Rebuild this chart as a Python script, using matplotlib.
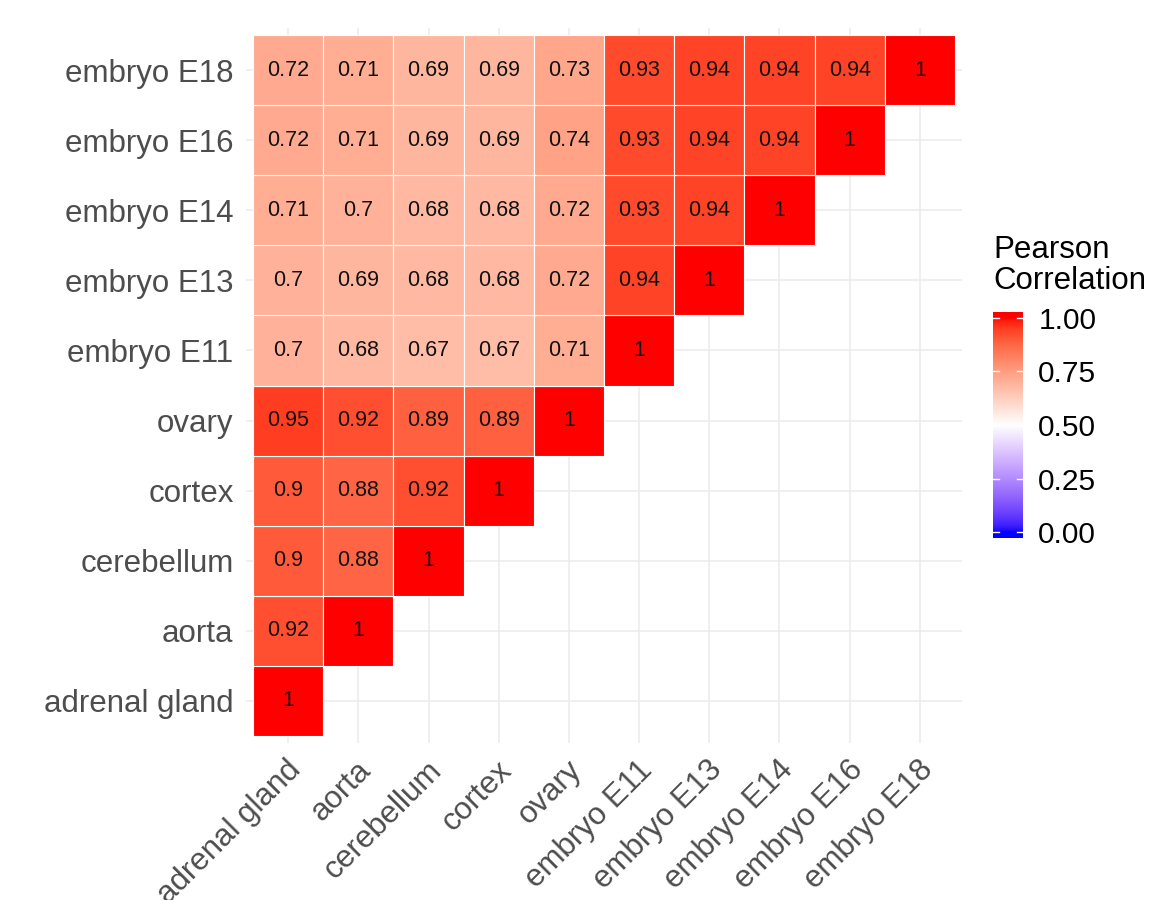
import numpy as np
import matplotlib
matplotlib.use("Agg")
import matplotlib.pyplot as plt
from matplotlib.colors import ListedColormap
from matplotlib.transforms import ScaledTranslation

plt.rcParams['font.family'] = ['Liberation Sans', 'DejaVu Sans']

# ---------------- data ----------------
tissues = ["adrenal gland", "aorta", "cerebellum", "cortex", "ovary",
           "embryo E11", "embryo E13", "embryo E14", "embryo E16", "embryo E18"]

# correlation rows (row tissue vs. columns from "adrenal gland" onward)
row_adrenal_gland = [1]
row_aorta = [0.92, 1]
row_cerebellum = [0.9, 0.88, 1]
row_cortex = [0.9, 0.88, 0.92, 1]
row_ovary = [0.95, 0.92, 0.89, 0.89, 1]
row_embryo_E11 = [0.7, 0.68, 0.67, 0.67, 0.71, 1]
row_embryo_E13 = [0.7, 0.69, 0.68, 0.68, 0.72, 0.94, 1]
row_embryo_E14 = [0.71, 0.7, 0.68, 0.68, 0.72, 0.93, 0.94, 1]
row_embryo_E16 = [0.72, 0.71, 0.69, 0.69, 0.74, 0.93, 0.94, 0.94, 1]
row_embryo_E18 = [0.72, 0.71, 0.69, 0.69, 0.73, 0.93, 0.94, 0.94, 0.94, 1]

rows = [row_adrenal_gland, row_aorta, row_cerebellum, row_cortex, row_ovary,
        row_embryo_E11, row_embryo_E13, row_embryo_E14, row_embryo_E16, row_embryo_E18]

legend_breaks = [0.0, 0.25, 0.5, 0.75, 1.0]
legend_title = "Pearson\nCorrelation"

# ---------------- colour scale (Lab interpolation, like ggplot) ----------------
WHITE_REF = np.array([0.95047, 1.0, 1.08883])
M = np.array([[0.4124564, 0.3575761, 0.1804375],
              [0.2126729, 0.7151522, 0.0721750],
              [0.0193339, 0.1191920, 0.9503041]])
Minv = np.linalg.inv(M)


def srgb_to_lab(rgb):
    c = np.asarray(rgb, float)
    lin = np.where(c <= 0.04045, c / 12.92, ((c + 0.055) / 1.055) ** 2.4)
    xyz = M @ lin / WHITE_REF
    d = 6 / 29
    f = np.where(xyz > d ** 3, np.cbrt(xyz), xyz / (3 * d * d) + 4 / 29)
    return np.array([116 * f[1] - 16, 500 * (f[0] - f[1]), 200 * (f[1] - f[2])])


def lab_to_srgb(lab):
    L, a, b = lab
    fy = (L + 16) / 116
    fx = fy + a / 500
    fz = fy - b / 200
    d = 6 / 29
    f = np.array([fx, fy, fz])
    xyz = np.where(f > d, f ** 3, 3 * d * d * (f - 4 / 29)) * WHITE_REF
    lin = Minv @ xyz
    lin = np.clip(lin, 0, 1)
    c = np.where(lin <= 0.0031308, 12.92 * lin, 1.055 * lin ** (1 / 2.4) - 0.055)
    return np.clip(c, 0, 1)


lab_blue = srgb_to_lab([0, 0, 1])
lab_white = srgb_to_lab([1, 1, 1])
lab_red = srgb_to_lab([1, 0, 0])
N = 512
cols = []
for t in np.linspace(0, 1, N):
    if t <= 0.5:
        s = t / 0.5
        lab = lab_blue + (lab_white - lab_blue) * s
    else:
        s = (t - 0.5) / 0.5
        lab = lab_white + (lab_red - lab_white) * s
    cols.append(lab_to_srgb(lab))
cmap = ListedColormap(cols)

# ---------------- figure ----------------
W, H = 1157, 900
fig = plt.figure(figsize=(W / 100, H / 100), dpi=100)
ax = fig.add_axes([246 / W, 1 - 743 / H, 716 / W, 715 / H])
n = len(tissues)
ax.set_xlim(-0.6, n - 0.4)
ax.set_ylim(-0.6, n - 0.4)

for k in range(n):
    ax.axvline(k, color="#EBEBEB", lw=1.1, zorder=0)
    ax.axhline(k, color="#EBEBEB", lw=1.1, zorder=0)

for j, row in enumerate(rows):
    for i, v in enumerate(row):
        ax.add_patch(plt.Rectangle((i - 0.5, j - 0.5), 1, 1, facecolor=cmap(float(v)),
                                   edgecolor="white", lw=0.8, zorder=2))
        ax.text(i, j, f"{v:g}", ha="center", va="center", fontsize=15.5,
                color="#111111", zorder=3)

for s in ax.spines.values():
    s.set_visible(False)
ax.set_xticks(range(n))
ax.set_yticks(range(n))
ax.set_yticklabels(tissues, fontsize=22.5, color="#4D4D4D")
ax.set_xticklabels(tissues, fontsize=22.5, color="#4D4D4D", rotation=45,
                   ha="right", va="top", rotation_mode="anchor")
ax.tick_params(axis="both", length=0)
ax.tick_params(axis="y", pad=9)
ax.tick_params(axis="x", pad=0)
off = ScaledTranslation(-2 / 100, -12 / 100, fig.dpi_scale_trans)
for lab in ax.get_xticklabels():
    lab.set_transform(lab.get_transform() + off)

# ---------------- colour bar ----------------
cax = fig.add_axes([993 / W, 1 - 538 / H, 30 / W, 226 / H])
ext = 1 / 38
vals = np.clip(np.linspace(1 + ext, -ext, 400), 0, 1).reshape(-1, 1)
cax.imshow(vals, cmap=cmap, vmin=0, vmax=1, aspect="auto",
           extent=(0, 1, -ext, 1 + ext), interpolation="bilinear")
cax.set_xlim(0, 1)
cax.set_ylim(-ext, 1 + ext)
for b in legend_breaks:
    cax.plot([0, 0.2], [b, b], color="white", lw=1.0)
    cax.plot([0.8, 1], [b, b], color="white", lw=1.0)
cax.set_xticks([])
cax.set_yticks(legend_breaks)
cax.set_yticklabels([f"{b:.2f}" for b in legend_breaks], fontsize=21.5, color="black")
cax.yaxis.tick_right()
cax.tick_params(axis="y", length=0, pad=11)
for s in cax.spines.values():
    s.set_visible(False)

fig.text(993 / W, 1 - 235 / H, legend_title, ha="left", va="top",
         fontsize=22.5, color="black", linespacing=1.05)

fig.savefig("out.png", dpi=100, facecolor="white")
